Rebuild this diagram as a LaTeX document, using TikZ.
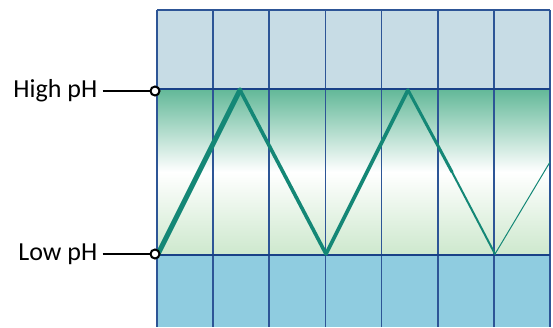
\documentclass[tikz,border=0pt]{standalone}
\usepackage{fontspec}
\setmainfont{Carlito}
\usepackage{xcolor}
\usepackage{tikz}
\usetikzlibrary{positioning}
\definecolor{gridblue}{RGB}{45, 85, 150}
\definecolor{darkgrid}{RGB}{25, 65, 135}
\definecolor{topband}{RGB}{199, 220, 229}
\definecolor{lowband}{RGB}{143, 204, 224}
\definecolor{highgreen}{RGB}{98, 184, 152}
\definecolor{lowgreen}{RGB}{205, 232, 205}
\definecolor{zigzag}{RGB}{20, 135, 118}
\tikzstyle{phlabel} = [
    font=\fontsize{26}{31}\selectfont,
    inner ysep=0pt,
    inner xsep=5pt
]
\tikzstyle{phdot} = [
    circle,
    draw=black,
    fill=white,
    line width=2pt,
    minimum size=9pt,
    inner sep=0pt
]
\tikzstyle{leader} = [
    line width=2pt,
    color=black
]
\tikzstyle{gridline} = [
    line width=1.6pt,
    color=gridblue
]
\tikzstyle{bandline} = [
    line width=2.6pt,
    color=darkgrid
]
\tikzstyle{trace} = [
    color=zigzag,
    line join=round,
    line cap=round
]

\begin{document}
\begin{tikzpicture}[x=1pt, y=-1pt]
        \useasboundingbox (0,0) rectangle (553,327);
        % Bands
        \fill[topband] (157,10) rectangle (550,89);
        \shade[top color=highgreen, bottom color=lowgreen, middle color=white] (157,89) rectangle (550,255);
        \fill[lowband] (157,255) rectangle (550,327);
        
        % Grid
        \foreach \i in {0,...,7}
            \draw[gridline] ({157+56.14*\i},10) -- ({157+56.14*\i},327);
        \draw[gridline] (157,10) -- (550,10);
        \draw[bandline] (157,89) -- (550,89);
        \draw[bandline] (157,255) -- (550,255);
        
        % Zigzag
        \draw[trace, line width=5pt] (158,254) -- (240,90);
        \draw[trace, line width=3.6pt] (240,90) -- (326,254) -- (408,90);
        \draw[trace, line width=3pt] (408,90) -- (452,172);
        \draw[trace, line width=2pt] (452,172) -- (495,254);
        \draw[trace, line width=1pt] (495,254) -- (550,162);
        
        % Markers
        \node[phdot] (highdot) at (155,91) {};
        \node[phdot] (lowdot) at (155,254) {};
        \node[phlabel, left=47pt of highdot] (high) {High pH};
        \node[phlabel, left=47pt of lowdot] (low) {Low pH};
        
        % Leaders
        \draw[leader] (high) -- (highdot);
        \draw[leader] (low) -- (lowdot);
    \end{tikzpicture}
\end{document}
